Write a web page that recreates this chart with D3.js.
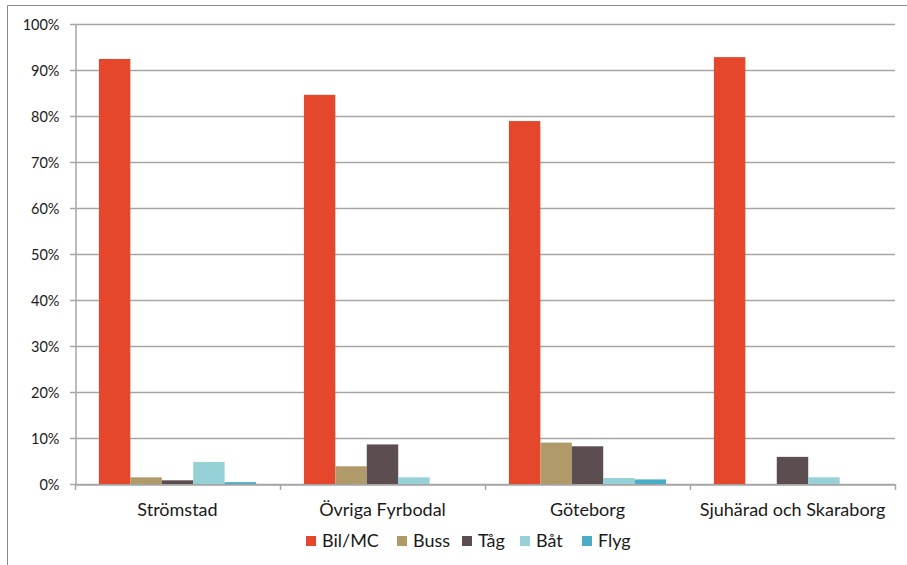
<!DOCTYPE html>
<html>
<head>
<meta charset="utf-8">
<script src="https://cdn.jsdelivr.net/npm/d3@7"></script>
<style>
  body { margin: 0; background: #fff; }
  svg text { font-family: Lato, 'Open Sans', sans-serif; fill: #1a1a1a; }
</style>
</head>
<body>
<script>
const width = 907
const height = 565

const regions = ['Strömstad', 'Övriga Fyrbodal', 'Göteborg', 'Sjuhärad och Skaraborg']
const modes = ['Bil/MC', 'Buss', 'Tåg', 'Båt', 'Flyg']
const colors = ['#e5472c', '#b09a6a', '#5c4d50', '#96d1d8', '#4aacc6']

// andel per färdmedel, en rad per region
const bil = [0.924, 0.846, 0.789, 0.928]
const buss = [0.0145, 0.0385, 0.09, 0]
const tag = [0.008, 0.086, 0.082, 0.059]
const bat = [0.048, 0.0145, 0.013, 0.0145]
const flyg = [0.004, 0, 0.01, 0]

const yTicks = [0, 0.1, 0.2, 0.3, 0.4, 0.5, 0.6, 0.7, 0.8, 0.9, 1]

const series = [bil, buss, tag, bat, flyg]
const rows = regions.map((r, i) => ({ region: r, values: series.map((s, j) => ({ mode: modes[j], value: s[i] })) }))

const svg = d3.select('body').append('svg')
  .attr('width', width)
  .attr('height', height)

// ram
svg.append('path')
  .attr('d', 'M7.5,' + height + 'V5.5H' + width)
  .attr('fill', 'none')
  .attr('stroke', '#8c8c8c')
  .attr('stroke-width', 1)

const x = d3.scaleBand().domain(regions).range([75, 895])
const xInner = d3.scaleBand().domain(modes).range([0, x.bandwidth()]).paddingOuter(0.76)
const y = d3.scaleLinear().domain([0, 1]).range([484, 24])

// stödlinjer
svg.append('g')
  .selectAll('line')
  .data(yTicks)
  .enter()
  .append('line')
  .attr('x1', 70)
  .attr('x2', 895)
  .attr('y1', d => Math.round(y(d)) + 0.5)
  .attr('y2', d => Math.round(y(d)) + 0.5)
  .attr('stroke', '#a6a6a6')
  .attr('stroke-width', 1.5)

// y-axel
const yAxis = svg.append('g')
  .attr('transform', 'translate(75.5,0.5)')
  .call(d3.axisLeft(y).tickValues(yTicks).tickFormat(d3.format('.0%')).tickSize(0).tickPadding(16))
yAxis.select('.domain').attr('stroke', '#a6a6a6').attr('stroke-width', 1.5)
yAxis.selectAll('text').style('font-size', '14.5px').attr('dy', '0.34em')

// staplar
const group = svg.append('g')
  .selectAll('g')
  .data(rows)
  .enter()
  .append('g')
  .attr('transform', d => `translate(${x(d.region)},0)`)

group.selectAll('rect')
  .data(d => d.values)
  .enter()
  .append('rect')
  .attr('x', d => xInner(d.mode))
  .attr('width', xInner.bandwidth())
  .attr('y', d => y(d.value))
  .attr('height', d => y(0) - y(d.value))
  .attr('fill', (d, i) => colors[i])

// x-axel
const xAxis = svg.append('g')
  .attr('transform', 'translate(0,484.5)')
  .call(d3.axisBottom(x).tickSize(0).tickPadding(19))
xAxis.select('.domain').attr('stroke', '#a6a6a6').attr('stroke-width', 1.5)
xAxis.selectAll('text').style('font-size', '18px')

svg.append('g')
  .selectAll('line')
  .data([75, 280, 485, 690, 895])
  .enter()
  .append('line')
  .attr('x1', d => d + 0.5)
  .attr('x2', d => d + 0.5)
  .attr('y1', 484)
  .attr('y2', 490)
  .attr('stroke', '#a6a6a6')
  .attr('stroke-width', 1.5)

// teckenförklaring
const legendX = [306, 397, 462, 520, 582]
const legend = svg.append('g')
  .selectAll('g')
  .data(modes)
  .enter()
  .append('g')
  .attr('transform', (d, i) => `translate(${legendX[i]},536)`)

legend.append('rect')
  .attr('width', 10)
  .attr('height', 10)
  .attr('fill', (d, i) => colors[i])

legend.append('text')
  .attr('x', 16)
  .attr('y', 5)
  .attr('dy', '0.35em')
  .style('font-size', '18px')
  .text(d => d)
</script>
</body>
</html>
